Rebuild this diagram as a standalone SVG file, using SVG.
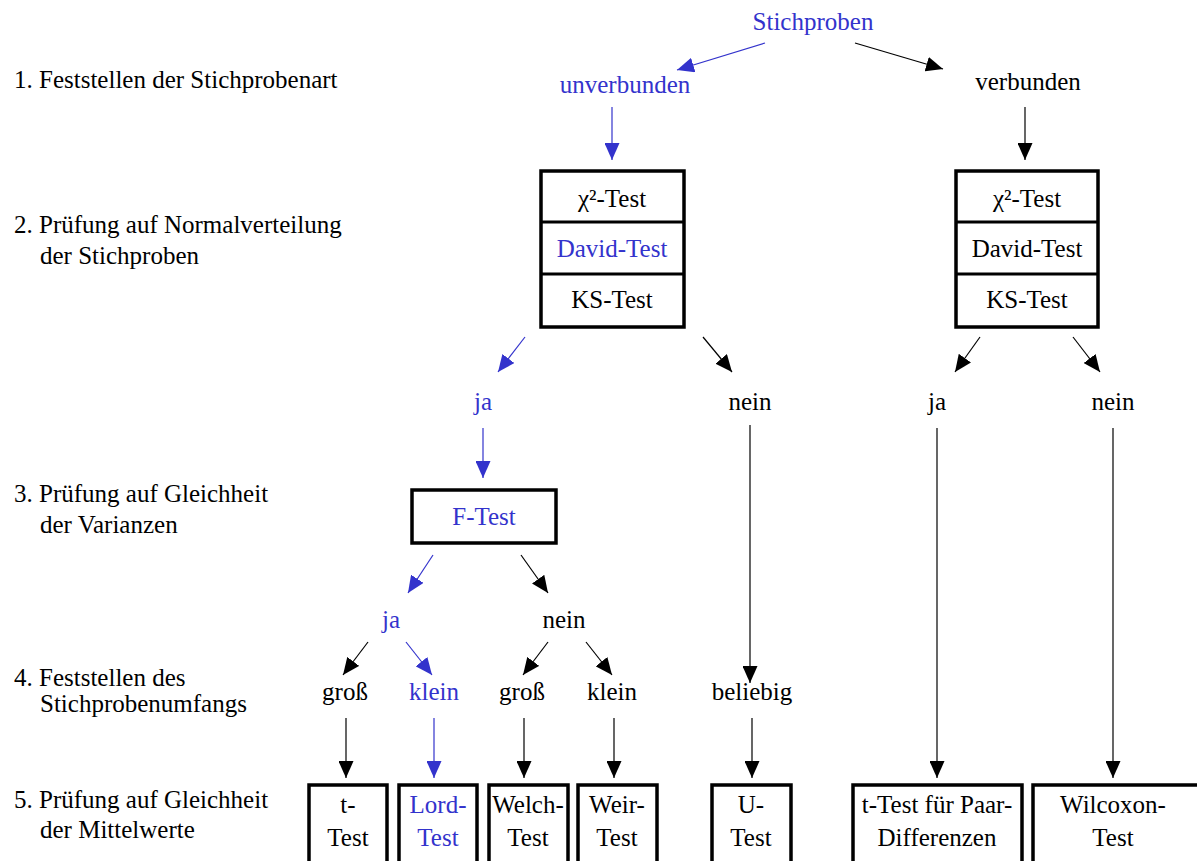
<svg xmlns="http://www.w3.org/2000/svg" width="1197" height="861" viewBox="0 0 1197 861" font-family="'Liberation Serif', 'Times New Roman', serif" font-size="25">
<defs>
<marker id="ab" viewBox="0 0 17 15" refX="17" refY="7.5" markerWidth="17" markerHeight="15" markerUnits="userSpaceOnUse" orient="auto"><path d="M0,0 L17,7.5 L0,15 Z" fill="#000"/></marker>
<marker id="au" viewBox="0 0 17 15" refX="17" refY="7.5" markerWidth="17" markerHeight="15" markerUnits="userSpaceOnUse" orient="auto"><path d="M0,0 L17,7.5 L0,15 Z" fill="#3333cc"/></marker>
</defs>
<style>
text{font-family:'Liberation Serif','Times New Roman',serif;font-size:25px;fill:#000}
.c{text-anchor:middle}
.u{fill:#3333cc}
.box{fill:#fff;stroke:#000;stroke-width:3.5}
.k{stroke:#000;stroke-width:1.2;fill:none;marker-end:url(#ab)}
.b{stroke:#3333cc;stroke-width:1.2;fill:none;marker-end:url(#au)}
</style>
<rect width="1197" height="861" fill="#fff"/>
<g id="steps">
<text x="14" y="88">1. Feststellen der Stichprobenart</text>
<text x="14" y="233">2. Prüfung auf Normalverteilung</text>
<text x="40" y="264">der Stichproben</text>
<text x="14" y="502">3. Prüfung auf Gleichheit</text>
<text x="40" y="533">der Varianzen</text>
<text x="14" y="686">4. Feststellen des</text>
<text x="40" y="712">Stichprobenumfangs</text>
<text x="14" y="808">5. Prüfung auf Gleichheit</text>
<text x="40" y="838">der Mittelwerte</text>
</g>
<g id="connectors">
<line class="b" x1="765" y1="43" x2="677" y2="70"/>
<line class="k" x1="855" y1="43" x2="943" y2="69"/>
<line class="b" x1="612" y1="107" x2="612" y2="160"/>
<line class="k" x1="1025" y1="107" x2="1025" y2="160"/>
<line class="b" x1="525" y1="337" x2="498" y2="372"/>
<line class="k" x1="703" y1="337" x2="732" y2="372"/>
<line class="k" x1="980" y1="337" x2="955" y2="372"/>
<line class="k" x1="1073" y1="337" x2="1100" y2="372"/>
<line class="b" x1="483" y1="428" x2="483" y2="478"/>
<line class="k" x1="750" y1="425" x2="750" y2="683"/>
<line class="k" x1="937" y1="428" x2="937" y2="778"/>
<line class="k" x1="1113" y1="428" x2="1113" y2="778"/>
<line class="b" x1="433" y1="555" x2="408" y2="593"/>
<line class="k" x1="521" y1="555" x2="548" y2="593"/>
<line class="k" x1="368" y1="642" x2="343" y2="675"/>
<line class="b" x1="406" y1="642" x2="432" y2="675"/>
<line class="k" x1="548" y1="642" x2="523" y2="675"/>
<line class="k" x1="586" y1="642" x2="612" y2="675"/>
<line class="k" x1="346" y1="718" x2="346" y2="778"/>
<line class="b" x1="434" y1="718" x2="434" y2="778"/>
<line class="k" x1="524" y1="718" x2="524" y2="778"/>
<line class="k" x1="614" y1="718" x2="614" y2="778"/>
<line class="k" x1="752" y1="718" x2="752" y2="778"/>
</g>
<g id="stichproben"><text class="c u" x="813" y="30">Stichproben</text></g>
<g id="unverbunden"><text class="c u" x="625" y="93">unverbunden</text></g>
<g id="verbunden"><text class="c" x="1028" y="90">verbunden</text></g>
<g id="tests-left">
<rect class="box" x="541" y="171" width="143" height="156"/>
<line x1="541" y1="222" x2="684" y2="222" stroke="#000" stroke-width="3"/>
<line x1="541" y1="274" x2="684" y2="274" stroke="#000" stroke-width="3"/>
<text class="c" x="612" y="207">χ²-Test</text>
<text class="c u" x="612" y="257">David-Test</text>
<text class="c" x="612" y="308">KS-Test</text>
</g>
<g id="tests-right">
<rect class="box" x="956" y="171" width="142" height="156"/>
<line x1="956" y1="222" x2="1098" y2="222" stroke="#000" stroke-width="3"/>
<line x1="956" y1="274" x2="1098" y2="274" stroke="#000" stroke-width="3"/>
<text class="c" x="1027" y="207">χ²-Test</text>
<text class="c" x="1027" y="257">David-Test</text>
<text class="c" x="1027" y="308">KS-Test</text>
</g>
<g id="ja1"><text class="c u" x="483" y="410">ja</text></g>
<g id="nein1"><text class="c" x="750" y="410">nein</text></g>
<g id="ja2"><text class="c" x="937" y="410">ja</text></g>
<g id="nein2"><text class="c" x="1113" y="410">nein</text></g>
<g id="ftest">
<rect class="box" x="412" y="490" width="144" height="53"/>
<text class="c u" x="484" y="525">F-Test</text>
</g>
<g id="ja3"><text class="c u" x="391" y="628">ja</text></g>
<g id="nein3"><text class="c" x="564" y="628">nein</text></g>
<g id="gross1"><text class="c" x="345" y="700">groß</text></g>
<g id="klein1"><text class="c u" x="434" y="700">klein</text></g>
<g id="gross2"><text class="c" x="522" y="700">groß</text></g>
<g id="klein2"><text class="c" x="612" y="700">klein</text></g>
<g id="beliebig"><text class="c" x="752" y="700">beliebig</text></g>
<g id="ttest"><rect class="box" x="309" y="785" width="78" height="90"/><text class="c" x="348" y="813">t-</text><text class="c" x="348" y="846">Test</text></g>
<g id="lord"><rect class="box" x="399" y="785" width="78" height="90"/><text class="c u" x="438" y="813">Lord-</text><text class="c u" x="438" y="846">Test</text></g>
<g id="welch"><rect class="box" x="489" y="785" width="79" height="90"/><text class="c" x="528" y="813">Welch-</text><text class="c" x="528" y="846">Test</text></g>
<g id="weir"><rect class="box" x="578" y="785" width="79" height="90"/><text class="c" x="617" y="813">Weir-</text><text class="c" x="617" y="846">Test</text></g>
<g id="utest"><rect class="box" x="712" y="785" width="79" height="90"/><text class="c" x="751" y="813">U-</text><text class="c" x="751" y="846">Test</text></g>
<g id="paar"><rect class="box" x="853" y="785" width="169" height="90"/><text class="c" x="937" y="813">t-Test für Paar-</text><text class="c" x="937" y="846">Differenzen</text></g>
<g id="wilcoxon"><rect class="box" x="1033" y="785" width="170" height="90"/><text class="c" x="1113" y="813">Wilcoxon-</text><text class="c" x="1113" y="846">Test</text></g>
</svg>
